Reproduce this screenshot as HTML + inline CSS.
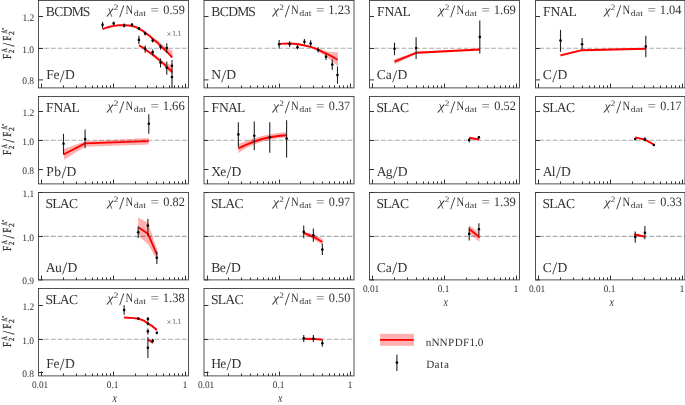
<!DOCTYPE html><html><head><meta charset="utf-8"><style>html,body{margin:0;padding:0;background:#fff;}svg{display:block;will-change:transform;text-rendering:geometricPrecision;}text{font-family:"Liberation Serif",serif;fill:#333;}</style></head><body>
<svg width="685" height="405" viewBox="0 0 685 405">
<polygon points="139,28 145,31.7 150,34.9 155,38.5 158,40.4 161,43.4 164,45.8 167,47.9 170,49.5 172.6,50.4 172.6,58.7 170,56.1 167,53.4 164,51.1 161,48.5 158,44.8 155,41.5 150,37.5 145,33.6 139,29.2" fill="#ffb0b0"/>
<polygon points="139,44.5 145.3,48.4 150,51.3 155,54.8 160.7,59.4 164.8,62.4 168,63.9 172.6,64.8 172.6,74.4 168,70.6 164.8,67.4 160.7,63 155,58.2 150,54.4 145.3,50.6 139,46" fill="#ffb0b0"/>
<line x1="38.5" y1="48.2" x2="188.5" y2="48.2" stroke="#000" stroke-opacity="0.33" stroke-width="1.1" stroke-dasharray="4.9 2.0" stroke-dashoffset="1.45"/>
<polyline points="102.54,29.2 108,27.2 113.65,25.9 119,25.3 124.13,25.2 129,25.5 133,26.2 136,27.2 138.92,28.6 142,30.3 145.17,32.8 150,36.3 152.69,39 156.85,42.2 160.52,45.9 163.7,48.7 166.77,51.6 169.5,54.4 171.98,57.3" fill="none" stroke="#ff0000" stroke-width="1.9" stroke-linejoin="round"/>
<polyline points="138.92,45.2 142.5,47.3 145.17,49.4 148.8,52 152.69,54.5 156.85,57.9 160.52,61.1 163.7,63.9 166.77,66.6 169.5,69.2 171.98,71.6" fill="none" stroke="#ff0000" stroke-width="1.9" stroke-linejoin="round"/>
<line x1="102.54" y1="21.9" x2="102.54" y2="28.4" stroke="#222" stroke-width="1.1"/>
<circle cx="102.54" cy="24.9" r="1.3" fill="#000"/>
<line x1="113.65" y1="21.5" x2="113.65" y2="24.9" stroke="#222" stroke-width="1.1"/>
<circle cx="113.65" cy="23.4" r="1.3" fill="#000"/>
<line x1="124.13" y1="23.6" x2="124.13" y2="27.4" stroke="#222" stroke-width="1.1"/>
<circle cx="124.13" cy="25.5" r="1.3" fill="#000"/>
<line x1="131.97" y1="23" x2="131.97" y2="26.4" stroke="#222" stroke-width="1.1"/>
<circle cx="131.97" cy="24.7" r="1.3" fill="#000"/>
<line x1="138.92" y1="27" x2="138.92" y2="30.2" stroke="#222" stroke-width="1.1"/>
<circle cx="138.92" cy="28.6" r="1.3" fill="#000"/>
<line x1="145.17" y1="31.5" x2="145.17" y2="35.5" stroke="#222" stroke-width="1.1"/>
<circle cx="145.17" cy="33.5" r="1.3" fill="#000"/>
<line x1="152.69" y1="38.5" x2="152.69" y2="42.6" stroke="#222" stroke-width="1.1"/>
<circle cx="152.69" cy="40.5" r="1.3" fill="#000"/>
<line x1="160.52" y1="44.4" x2="160.52" y2="49.6" stroke="#222" stroke-width="1.1"/>
<circle cx="160.52" cy="46.8" r="1.3" fill="#000"/>
<line x1="166.77" y1="43.3" x2="166.77" y2="53" stroke="#222" stroke-width="1.1"/>
<circle cx="166.77" cy="48" r="1.3" fill="#000"/>
<line x1="171.98" y1="59.9" x2="171.98" y2="72.4" stroke="#222" stroke-width="1.1"/>
<circle cx="171.98" cy="65.8" r="1.3" fill="#000"/>
<line x1="138.92" y1="35.8" x2="138.92" y2="44" stroke="#222" stroke-width="1.1"/>
<circle cx="138.92" cy="39.9" r="1.3" fill="#000"/>
<line x1="145.17" y1="45.6" x2="145.17" y2="52.8" stroke="#222" stroke-width="1.1"/>
<circle cx="145.17" cy="48.6" r="1.3" fill="#000"/>
<line x1="152.69" y1="49.5" x2="152.69" y2="55.5" stroke="#222" stroke-width="1.1"/>
<circle cx="152.69" cy="52.2" r="1.3" fill="#000"/>
<line x1="160.52" y1="58.4" x2="160.52" y2="67.5" stroke="#222" stroke-width="1.1"/>
<circle cx="160.52" cy="62.6" r="1.3" fill="#000"/>
<line x1="166.77" y1="61.5" x2="166.77" y2="74.7" stroke="#222" stroke-width="1.1"/>
<circle cx="166.77" cy="67.7" r="1.3" fill="#000"/>
<line x1="171.98" y1="71" x2="171.98" y2="88" stroke="#222" stroke-width="1.1"/>
<circle cx="171.98" cy="77" r="1.3" fill="#000"/>
<text x="166.4" y="36.6" font-size="8.8" textLength="4.99" lengthAdjust="spacingAndGlyphs" style="fill:#555">×</text>
<text x="172.16" y="35.6" font-size="8" textLength="9.07" lengthAdjust="spacingAndGlyphs" style="fill:#555">1.1</text>
<path d="M38.5 16.5h4.5M38.5 48.5h4.5M38.5 79.9h4.5M41.5 87.9v-4.4M63.5 87.9v-2.5M76.5 87.9v-2.5M85.5 87.9v-2.5M92.5 87.9v-2.5M97.5 87.9v-2.5M102.5 87.9v-2.5M106.5 87.9v-2.5M110.5 87.9v-2.5M113.5 87.9v-4.4M135.5 87.9v-2.5M147.5 87.9v-2.5M156.5 87.9v-2.5M163.5 87.9v-2.5M169.5 87.9v-2.5M174.5 87.9v-2.5M178.5 87.9v-2.5M182.5 87.9v-2.5M185.5 87.9v-4.4" stroke="#333" stroke-width="1" fill="none"/>
<rect x="38.5" y="0.5" width="150" height="87.4" fill="none" stroke="#333" stroke-width="0.85"/>
<text font-size="13.6"><tspan x="45.67" y="15.9">B</tspan><tspan x="54.25" y="15.9">C</tspan><tspan x="62.79" y="15.9">D</tspan><tspan x="71.74" y="15.9">M</tspan><tspan x="82.85" y="15.9">S</tspan></text>
<text font-size="13.6"><tspan x="46.2" y="79">F</tspan><tspan x="53.54" y="79">e</tspan><tspan x="59.81" y="81.64" font-size="17.4">/</tspan><tspan x="64.9" y="79">D</tspan></text>
<text x="107.48" y="13.5" font-size="12" font-style="italic" textLength="5.94" lengthAdjust="spacingAndGlyphs">χ</text>
<text x="113.89" y="9.5" font-size="8.2" textLength="4.61" lengthAdjust="spacingAndGlyphs">2</text>
<text x="119.3" y="16.6" font-size="18" textLength="5" lengthAdjust="spacingAndGlyphs">/</text>
<text x="125.49" y="13.5" font-size="12.8" textLength="7.65" lengthAdjust="spacingAndGlyphs">N</text>
<text x="133.84" y="15.6" font-size="8.4" textLength="12.12" lengthAdjust="spacingAndGlyphs">dat</text>
<text x="150.45" y="13.5" font-size="12.8" textLength="8.48" lengthAdjust="spacingAndGlyphs">=</text>
<text x="163.33" y="13.7" font-size="12.8" textLength="21.47" lengthAdjust="spacingAndGlyphs">0.59</text>
<text x="22.4" y="20.7" font-size="10" textLength="11.82" lengthAdjust="spacingAndGlyphs">1.2</text>
<text x="22.23" y="52.7" font-size="10" textLength="11.83" lengthAdjust="spacingAndGlyphs">1.0</text>
<text x="22.2" y="84.1" font-size="10" textLength="11.86" lengthAdjust="spacingAndGlyphs">0.8</text>
<g transform="translate(0 44.2) rotate(-90)">
<text x="-14.76" y="10.6" font-size="12.2" textLength="5.09" lengthAdjust="spacingAndGlyphs" stroke="#333" stroke-width="0.25">F</text>
<text x="-9.02" y="13.7" font-size="7.8" textLength="3.62" lengthAdjust="spacingAndGlyphs" stroke="#333" stroke-width="0.25">2</text>
<text x="-8.16" y="6.8" font-size="8.4" textLength="4.1" lengthAdjust="spacingAndGlyphs" stroke="#333" stroke-width="0.25">A</text>
<text x="-2.4" y="13.6" font-size="16.5" textLength="3.6" lengthAdjust="spacingAndGlyphs" stroke="#333" stroke-width="0.25">/</text>
<text x="3.34" y="10.6" font-size="12.2" textLength="5.09" lengthAdjust="spacingAndGlyphs" stroke="#333" stroke-width="0.25">F</text>
<text x="9.17" y="13.7" font-size="7.8" textLength="3.74" lengthAdjust="spacingAndGlyphs" stroke="#333" stroke-width="0.25">2</text>
<text x="10.35" y="6.8" font-size="8.4" textLength="3.99" lengthAdjust="spacingAndGlyphs" stroke="#333" stroke-width="0.25">A</text>
<text x="14.41" y="6.6" font-size="7.5" textLength="2.19" lengthAdjust="spacingAndGlyphs" stroke="#333" stroke-width="0.25">′</text>
</g>
<polygon points="279.3,43.3 298.6,43.7 310,46.3 318.4,48.6 327,51.3 333,52.2 338,52.2 338,66.5 333,62 327,57.5 318.4,51.2 310,47.6 298.6,44.9 279.3,44.5" fill="#ffb0b0"/>
<line x1="204" y1="48.2" x2="354" y2="48.2" stroke="#000" stroke-opacity="0.33" stroke-width="1.1" stroke-dasharray="4.9 2.0" stroke-dashoffset="1.45"/>
<polyline points="279.15,43.9 284,43.6 289.63,43.5 294,43.7 298.6,44.3 303.72,45.3 310.67,46.9 314.3,48.1 318.19,49.7 322.35,51.8 327.2,54 332.27,56.6 337.48,59.8" fill="none" stroke="#ff0000" stroke-width="1.9" stroke-linejoin="round"/>
<line x1="279.15" y1="40" x2="279.15" y2="48.6" stroke="#222" stroke-width="1.1"/>
<circle cx="279.15" cy="44.3" r="1.3" fill="#000"/>
<line x1="289.63" y1="41.2" x2="289.63" y2="46.9" stroke="#222" stroke-width="1.1"/>
<circle cx="289.63" cy="43.9" r="1.3" fill="#000"/>
<line x1="297.47" y1="45" x2="297.47" y2="49.3" stroke="#222" stroke-width="1.1"/>
<circle cx="297.47" cy="47.2" r="1.3" fill="#000"/>
<line x1="304.42" y1="38.9" x2="304.42" y2="44.6" stroke="#222" stroke-width="1.1"/>
<circle cx="304.42" cy="41.7" r="1.3" fill="#000"/>
<line x1="310.67" y1="40.3" x2="310.67" y2="46.5" stroke="#222" stroke-width="1.1"/>
<circle cx="310.67" cy="43.6" r="1.3" fill="#000"/>
<line x1="318.19" y1="47.2" x2="318.19" y2="52.6" stroke="#222" stroke-width="1.1"/>
<circle cx="318.19" cy="50" r="1.3" fill="#000"/>
<line x1="326.02" y1="54" x2="326.02" y2="60" stroke="#222" stroke-width="1.1"/>
<circle cx="326.02" cy="56.8" r="1.3" fill="#000"/>
<line x1="332.27" y1="59.3" x2="332.27" y2="70.1" stroke="#222" stroke-width="1.1"/>
<circle cx="332.27" cy="64.6" r="1.3" fill="#000"/>
<line x1="337.48" y1="66.5" x2="337.48" y2="83.7" stroke="#222" stroke-width="1.1"/>
<circle cx="337.48" cy="75.1" r="1.3" fill="#000"/>
<path d="M204 16.5h4.5M204 48.5h4.5M204 79.9h4.5M207.5 87.9v-4.4M228.5 87.9v-2.5M241.5 87.9v-2.5M250.5 87.9v-2.5M257.5 87.9v-2.5M263.5 87.9v-2.5M268.5 87.9v-2.5M272.5 87.9v-2.5M275.5 87.9v-2.5M279.5 87.9v-4.4M300.5 87.9v-2.5M313.5 87.9v-2.5M322.5 87.9v-2.5M329.5 87.9v-2.5M334.5 87.9v-2.5M339.5 87.9v-2.5M343.5 87.9v-2.5M347.5 87.9v-2.5M350.5 87.9v-4.4" stroke="#333" stroke-width="1" fill="none"/>
<rect x="204" y="0.5" width="150" height="87.4" fill="none" stroke="#333" stroke-width="0.85"/>
<text font-size="13.6"><tspan x="211.17" y="15.9">B</tspan><tspan x="219.75" y="15.9">C</tspan><tspan x="228.29" y="15.9">D</tspan><tspan x="237.24" y="15.9">M</tspan><tspan x="248.35" y="15.9">S</tspan></text>
<text font-size="13.6"><tspan x="211.15" y="79">N</tspan><tspan x="221.14" y="81.64" font-size="17.4">/</tspan><tspan x="226.23" y="79">D</tspan></text>
<text x="272.98" y="13.5" font-size="12" font-style="italic" textLength="5.94" lengthAdjust="spacingAndGlyphs">χ</text>
<text x="279.39" y="9.5" font-size="8.2" textLength="4.61" lengthAdjust="spacingAndGlyphs">2</text>
<text x="284.8" y="16.6" font-size="18" textLength="5" lengthAdjust="spacingAndGlyphs">/</text>
<text x="290.99" y="13.5" font-size="12.8" textLength="7.65" lengthAdjust="spacingAndGlyphs">N</text>
<text x="299.34" y="15.6" font-size="8.4" textLength="12.12" lengthAdjust="spacingAndGlyphs">dat</text>
<text x="315.95" y="13.5" font-size="12.8" textLength="8.48" lengthAdjust="spacingAndGlyphs">=</text>
<text x="328.19" y="13.7" font-size="12.8" textLength="22.1" lengthAdjust="spacingAndGlyphs">1.23</text>
<polygon points="394.5,59.2 416.4,51.7 480,48.6 480,50.4 416.4,53.9 394.5,64.2" fill="#ffb0b0"/>
<line x1="369.5" y1="48.2" x2="519.5" y2="48.2" stroke="#000" stroke-opacity="0.33" stroke-width="1.1" stroke-dasharray="4.9 2.0" stroke-dashoffset="2.45"/>
<polyline points="394.5,61.6 416.1,52.8 479.8,49.5" fill="none" stroke="#ff0000" stroke-width="1.9" stroke-linejoin="round"/>
<line x1="394.5" y1="42.6" x2="394.5" y2="55.2" stroke="#222" stroke-width="1.1"/>
<circle cx="394.5" cy="48.7" r="1.3" fill="#000"/>
<line x1="416.1" y1="37.2" x2="416.1" y2="59" stroke="#222" stroke-width="1.1"/>
<circle cx="416.1" cy="48" r="1.3" fill="#000"/>
<line x1="479.8" y1="20.4" x2="479.8" y2="53.6" stroke="#222" stroke-width="1.1"/>
<circle cx="479.8" cy="36.9" r="1.3" fill="#000"/>
<path d="M369.5 16.5h4.5M369.5 48.5h4.5M369.5 79.9h4.5M372.5 87.9v-4.4M394.5 87.9v-2.5M407.5 87.9v-2.5M416.5 87.9v-2.5M423.5 87.9v-2.5M428.5 87.9v-2.5M433.5 87.9v-2.5M437.5 87.9v-2.5M441.5 87.9v-2.5M444.5 87.9v-4.4M466.5 87.9v-2.5M478.5 87.9v-2.5M487.5 87.9v-2.5M494.5 87.9v-2.5M500.5 87.9v-2.5M505.5 87.9v-2.5M509.5 87.9v-2.5M513.5 87.9v-2.5M516.5 87.9v-4.4" stroke="#333" stroke-width="1" fill="none"/>
<rect x="369.5" y="0.5" width="150" height="87.4" fill="none" stroke="#333" stroke-width="0.85"/>
<text font-size="13.6"><tspan x="377.1" y="15.9">F</tspan><tspan x="384.39" y="15.9">N</tspan><tspan x="393.39" y="15.9">A</tspan><tspan x="402.39" y="15.9">L</tspan></text>
<text font-size="13.6"><tspan x="376.86" y="79">C</tspan><tspan x="385.71" y="79">a</tspan><tspan x="392.31" y="81.64" font-size="17.4">/</tspan><tspan x="397.4" y="79">D</tspan></text>
<text x="438.48" y="13.5" font-size="12" font-style="italic" textLength="5.94" lengthAdjust="spacingAndGlyphs">χ</text>
<text x="444.89" y="9.5" font-size="8.2" textLength="4.61" lengthAdjust="spacingAndGlyphs">2</text>
<text x="450.3" y="16.6" font-size="18" textLength="5" lengthAdjust="spacingAndGlyphs">/</text>
<text x="456.49" y="13.5" font-size="12.8" textLength="7.65" lengthAdjust="spacingAndGlyphs">N</text>
<text x="464.84" y="15.6" font-size="8.4" textLength="12.12" lengthAdjust="spacingAndGlyphs">dat</text>
<text x="481.45" y="13.5" font-size="12.8" textLength="8.48" lengthAdjust="spacingAndGlyphs">=</text>
<text x="493.69" y="13.7" font-size="12.8" textLength="22.13" lengthAdjust="spacingAndGlyphs">1.69</text>
<polygon points="560.4,54.2 581.7,49.3 645.5,48 645.5,49.6 581.7,51.1 560.4,56.5" fill="#ffb0b0"/>
<line x1="535.5" y1="48.2" x2="685.5" y2="48.2" stroke="#000" stroke-opacity="0.33" stroke-width="1.1" stroke-dasharray="4.9 2.0" stroke-dashoffset="3.5"/>
<polyline points="560.5,55.3 582.1,50.2 645.8,48.8" fill="none" stroke="#ff0000" stroke-width="1.9" stroke-linejoin="round"/>
<line x1="560.5" y1="29.9" x2="560.5" y2="51.8" stroke="#222" stroke-width="1.1"/>
<circle cx="560.5" cy="40.6" r="1.3" fill="#000"/>
<line x1="582.1" y1="38" x2="582.1" y2="49.5" stroke="#222" stroke-width="1.1"/>
<circle cx="582.1" cy="44.2" r="1.3" fill="#000"/>
<line x1="645.8" y1="35.7" x2="645.8" y2="57.2" stroke="#222" stroke-width="1.1"/>
<circle cx="645.8" cy="46.5" r="1.3" fill="#000"/>
<path d="M535.5 16.5h4.5M535.5 48.5h4.5M535.5 79.9h4.5M538.5 87.9v-4.4M560.5 87.9v-2.5M573.5 87.9v-2.5M582.5 87.9v-2.5M589.5 87.9v-2.5M594.5 87.9v-2.5M599.5 87.9v-2.5M603.5 87.9v-2.5M607.5 87.9v-2.5M610.5 87.9v-4.4M632.5 87.9v-2.5M644.5 87.9v-2.5M653.5 87.9v-2.5M660.5 87.9v-2.5M666.5 87.9v-2.5M671.5 87.9v-2.5M675.5 87.9v-2.5M679.5 87.9v-2.5M682.5 87.9v-4.4" stroke="#333" stroke-width="1" fill="none"/>
<rect x="535.5" y="0.5" width="149.5" height="87.4" fill="none" stroke="#333" stroke-width="0.85"/>
<text font-size="13.6"><tspan x="543.1" y="15.9">F</tspan><tspan x="550.39" y="15.9">N</tspan><tspan x="559.39" y="15.9">A</tspan><tspan x="568.39" y="15.9">L</tspan></text>
<text font-size="13.6"><tspan x="542.86" y="79">C</tspan><tspan x="552.31" y="81.64" font-size="17.4">/</tspan><tspan x="557.4" y="79">D</tspan></text>
<text x="604.48" y="13.5" font-size="12" font-style="italic" textLength="5.94" lengthAdjust="spacingAndGlyphs">χ</text>
<text x="610.89" y="9.5" font-size="8.2" textLength="4.61" lengthAdjust="spacingAndGlyphs">2</text>
<text x="616.3" y="16.6" font-size="18" textLength="5" lengthAdjust="spacingAndGlyphs">/</text>
<text x="622.49" y="13.5" font-size="12.8" textLength="7.65" lengthAdjust="spacingAndGlyphs">N</text>
<text x="630.84" y="15.6" font-size="8.4" textLength="12.12" lengthAdjust="spacingAndGlyphs">dat</text>
<text x="647.45" y="13.5" font-size="12.8" textLength="8.48" lengthAdjust="spacingAndGlyphs">=</text>
<text x="659.71" y="13.7" font-size="12.8" textLength="21.79" lengthAdjust="spacingAndGlyphs">1.04</text>
<polygon points="63.9,149.1 85.2,141.2 148.8,138 148.8,144.5 85.2,146.8 63.9,159.8" fill="#ffb0b0"/>
<line x1="38.5" y1="140.3" x2="188.5" y2="140.3" stroke="#000" stroke-opacity="0.33" stroke-width="1.1" stroke-dasharray="4.9 2.0" stroke-dashoffset="1.45"/>
<polyline points="63.5,154.5 85.1,143.4 148.8,141.1" fill="none" stroke="#ff0000" stroke-width="1.9" stroke-linejoin="round"/>
<line x1="63.5" y1="133.8" x2="63.5" y2="154.4" stroke="#222" stroke-width="1.1"/>
<circle cx="63.5" cy="143.7" r="1.3" fill="#000"/>
<line x1="85.1" y1="129.6" x2="85.1" y2="148.3" stroke="#222" stroke-width="1.1"/>
<circle cx="85.1" cy="139.1" r="1.3" fill="#000"/>
<line x1="148.8" y1="114.3" x2="148.8" y2="133.8" stroke="#222" stroke-width="1.1"/>
<circle cx="148.8" cy="123.8" r="1.3" fill="#000"/>
<path d="M38.5 111.5h4.5M38.5 140.5h4.5M38.5 169.5h4.5M41.5 183.9v-4.4M63.5 183.9v-2.5M76.5 183.9v-2.5M85.5 183.9v-2.5M92.5 183.9v-2.5M97.5 183.9v-2.5M102.5 183.9v-2.5M106.5 183.9v-2.5M110.5 183.9v-2.5M113.5 183.9v-4.4M135.5 183.9v-2.5M147.5 183.9v-2.5M156.5 183.9v-2.5M163.5 183.9v-2.5M169.5 183.9v-2.5M174.5 183.9v-2.5M178.5 183.9v-2.5M182.5 183.9v-2.5M185.5 183.9v-4.4" stroke="#333" stroke-width="1" fill="none"/>
<rect x="38.5" y="96.5" width="150" height="87.4" fill="none" stroke="#333" stroke-width="0.85"/>
<text font-size="13.6"><tspan x="46.1" y="111.9">F</tspan><tspan x="53.39" y="111.9">N</tspan><tspan x="62.39" y="111.9">A</tspan><tspan x="71.39" y="111.9">L</tspan></text>
<text font-size="13.6"><tspan x="46.36" y="175.8">P</tspan><tspan x="54.17" y="175.8">b</tspan><tspan x="61.49" y="178.44" font-size="17.4">/</tspan><tspan x="66.58" y="175.8">D</tspan></text>
<text x="107.48" y="109.5" font-size="12" font-style="italic" textLength="5.94" lengthAdjust="spacingAndGlyphs">χ</text>
<text x="113.89" y="105.5" font-size="8.2" textLength="4.61" lengthAdjust="spacingAndGlyphs">2</text>
<text x="119.3" y="112.6" font-size="18" textLength="5" lengthAdjust="spacingAndGlyphs">/</text>
<text x="125.49" y="109.5" font-size="12.8" textLength="7.65" lengthAdjust="spacingAndGlyphs">N</text>
<text x="133.84" y="111.6" font-size="8.4" textLength="12.12" lengthAdjust="spacingAndGlyphs">dat</text>
<text x="150.45" y="109.5" font-size="12.8" textLength="8.48" lengthAdjust="spacingAndGlyphs">=</text>
<text x="162.7" y="109.7" font-size="12.8" textLength="21.98" lengthAdjust="spacingAndGlyphs">1.66</text>
<text x="22.4" y="115.7" font-size="10" textLength="11.82" lengthAdjust="spacingAndGlyphs">1.2</text>
<text x="22.23" y="144.7" font-size="10" textLength="11.83" lengthAdjust="spacingAndGlyphs">1.0</text>
<text x="22.2" y="173.7" font-size="10" textLength="11.86" lengthAdjust="spacingAndGlyphs">0.8</text>
<g transform="translate(0 140.2) rotate(-90)">
<text x="-14.76" y="10.6" font-size="12.2" textLength="5.09" lengthAdjust="spacingAndGlyphs" stroke="#333" stroke-width="0.25">F</text>
<text x="-9.02" y="13.7" font-size="7.8" textLength="3.62" lengthAdjust="spacingAndGlyphs" stroke="#333" stroke-width="0.25">2</text>
<text x="-8.16" y="6.8" font-size="8.4" textLength="4.1" lengthAdjust="spacingAndGlyphs" stroke="#333" stroke-width="0.25">A</text>
<text x="-2.4" y="13.6" font-size="16.5" textLength="3.6" lengthAdjust="spacingAndGlyphs" stroke="#333" stroke-width="0.25">/</text>
<text x="3.34" y="10.6" font-size="12.2" textLength="5.09" lengthAdjust="spacingAndGlyphs" stroke="#333" stroke-width="0.25">F</text>
<text x="9.17" y="13.7" font-size="7.8" textLength="3.74" lengthAdjust="spacingAndGlyphs" stroke="#333" stroke-width="0.25">2</text>
<text x="10.35" y="6.8" font-size="8.4" textLength="3.99" lengthAdjust="spacingAndGlyphs" stroke="#333" stroke-width="0.25">A</text>
<text x="14.41" y="6.6" font-size="7.5" textLength="2.19" lengthAdjust="spacingAndGlyphs" stroke="#333" stroke-width="0.25">′</text>
</g>
<polygon points="238.4,143.8 246,141 254.3,138.2 262,136 269.8,134.3 278,133 286.5,131.9 286.5,137.2 278,138.2 269.8,139.7 262,141.7 254.3,144.6 246,148.3 238.4,153" fill="#ffb0b0"/>
<line x1="204" y1="140.3" x2="354" y2="140.3" stroke="#000" stroke-opacity="0.33" stroke-width="1.1" stroke-dasharray="4.9 2.0" stroke-dashoffset="1.45"/>
<polyline points="238.35,148.4 246,144.9 254.27,141.5 262,139 269.77,137.2 278,136 286.6,135.2" fill="none" stroke="#ff0000" stroke-width="1.9" stroke-linejoin="round"/>
<line x1="238.35" y1="122.2" x2="238.35" y2="147.1" stroke="#222" stroke-width="1.1"/>
<circle cx="238.35" cy="134.4" r="1.3" fill="#000"/>
<line x1="254.27" y1="121.4" x2="254.27" y2="150.2" stroke="#222" stroke-width="1.1"/>
<circle cx="254.27" cy="135.7" r="1.3" fill="#000"/>
<line x1="269.77" y1="122.2" x2="269.77" y2="152.7" stroke="#222" stroke-width="1.1"/>
<circle cx="269.77" cy="137.2" r="1.3" fill="#000"/>
<line x1="286.6" y1="120.2" x2="286.6" y2="157.6" stroke="#222" stroke-width="1.1"/>
<circle cx="286.6" cy="138.5" r="1.3" fill="#000"/>
<path d="M204 111.5h4.5M204 140.5h4.5M204 169.5h4.5M207.5 183.9v-4.4M228.5 183.9v-2.5M241.5 183.9v-2.5M250.5 183.9v-2.5M257.5 183.9v-2.5M263.5 183.9v-2.5M268.5 183.9v-2.5M272.5 183.9v-2.5M275.5 183.9v-2.5M279.5 183.9v-4.4M300.5 183.9v-2.5M313.5 183.9v-2.5M322.5 183.9v-2.5M329.5 183.9v-2.5M334.5 183.9v-2.5M339.5 183.9v-2.5M343.5 183.9v-2.5M347.5 183.9v-2.5M350.5 183.9v-4.4" stroke="#333" stroke-width="1" fill="none"/>
<rect x="204" y="96.5" width="150" height="87.4" fill="none" stroke="#333" stroke-width="0.85"/>
<text font-size="13.6"><tspan x="211.6" y="111.9">F</tspan><tspan x="218.89" y="111.9">N</tspan><tspan x="227.89" y="111.9">A</tspan><tspan x="236.89" y="111.9">L</tspan></text>
<text font-size="13.6"><tspan x="211.15" y="175.8">X</tspan><tspan x="220.21" y="175.8">e</tspan><tspan x="226.47" y="178.44" font-size="17.4">/</tspan><tspan x="231.56" y="175.8">D</tspan></text>
<text x="272.98" y="109.5" font-size="12" font-style="italic" textLength="5.94" lengthAdjust="spacingAndGlyphs">χ</text>
<text x="279.39" y="105.5" font-size="8.2" textLength="4.61" lengthAdjust="spacingAndGlyphs">2</text>
<text x="284.8" y="112.6" font-size="18" textLength="5" lengthAdjust="spacingAndGlyphs">/</text>
<text x="290.99" y="109.5" font-size="12.8" textLength="7.65" lengthAdjust="spacingAndGlyphs">N</text>
<text x="299.34" y="111.6" font-size="8.4" textLength="12.12" lengthAdjust="spacingAndGlyphs">dat</text>
<text x="315.95" y="109.5" font-size="12.8" textLength="8.48" lengthAdjust="spacingAndGlyphs">=</text>
<text x="328.84" y="109.7" font-size="12.8" textLength="21.31" lengthAdjust="spacingAndGlyphs">0.37</text>
<polygon points="469,136.8 479.1,138.7 479.1,140.3 469,138.6" fill="#ffb0b0"/>
<line x1="369.5" y1="140.3" x2="519.5" y2="140.3" stroke="#000" stroke-opacity="0.33" stroke-width="1.1" stroke-dasharray="4.9 2.0" stroke-dashoffset="2.45"/>
<polyline points="469.22,137.7 478.88,139.5" fill="none" stroke="#ff0000" stroke-width="1.9" stroke-linejoin="round"/>
<line x1="469.22" y1="138.9" x2="469.22" y2="142.6" stroke="#222" stroke-width="1.1"/>
<circle cx="469.22" cy="139.9" r="1.3" fill="#000"/>
<line x1="478.88" y1="136.1" x2="478.88" y2="139.2" stroke="#222" stroke-width="1.1"/>
<circle cx="478.88" cy="137.3" r="1.3" fill="#000"/>
<path d="M369.5 111.5h4.5M369.5 140.5h4.5M369.5 169.5h4.5M372.5 183.9v-4.4M394.5 183.9v-2.5M407.5 183.9v-2.5M416.5 183.9v-2.5M423.5 183.9v-2.5M428.5 183.9v-2.5M433.5 183.9v-2.5M437.5 183.9v-2.5M441.5 183.9v-2.5M444.5 183.9v-4.4M466.5 183.9v-2.5M478.5 183.9v-2.5M487.5 183.9v-2.5M494.5 183.9v-2.5M500.5 183.9v-2.5M505.5 183.9v-2.5M509.5 183.9v-2.5M513.5 183.9v-2.5M516.5 183.9v-4.4" stroke="#333" stroke-width="1" fill="none"/>
<rect x="369.5" y="96.5" width="150" height="87.4" fill="none" stroke="#333" stroke-width="0.85"/>
<text font-size="13.6"><tspan x="376.51" y="111.9">S</tspan><tspan x="383.23" y="111.9">L</tspan><tspan x="390.72" y="111.9">A</tspan><tspan x="399.93" y="111.9">C</tspan></text>
<text font-size="13.6"><tspan x="376.65" y="175.8">A</tspan><tspan x="385.66" y="175.8">g</tspan><tspan x="392.64" y="178.44" font-size="17.4">/</tspan><tspan x="397.73" y="175.8">D</tspan></text>
<text x="438.48" y="109.5" font-size="12" font-style="italic" textLength="5.94" lengthAdjust="spacingAndGlyphs">χ</text>
<text x="444.89" y="105.5" font-size="8.2" textLength="4.61" lengthAdjust="spacingAndGlyphs">2</text>
<text x="450.3" y="112.6" font-size="18" textLength="5" lengthAdjust="spacingAndGlyphs">/</text>
<text x="456.49" y="109.5" font-size="12.8" textLength="7.65" lengthAdjust="spacingAndGlyphs">N</text>
<text x="464.84" y="111.6" font-size="8.4" textLength="12.12" lengthAdjust="spacingAndGlyphs">dat</text>
<text x="481.45" y="109.5" font-size="12.8" textLength="8.48" lengthAdjust="spacingAndGlyphs">=</text>
<text x="494.33" y="109.7" font-size="12.8" textLength="21.65" lengthAdjust="spacingAndGlyphs">0.52</text>
<polygon points="634.6,136.5 644.4,138.9 653.7,143.5 653.7,145.5 644.4,140.5 634.6,138.1" fill="#ffb0b0"/>
<line x1="535.5" y1="140.3" x2="685.5" y2="140.3" stroke="#000" stroke-opacity="0.33" stroke-width="1.1" stroke-dasharray="4.9 2.0" stroke-dashoffset="3.5"/>
<polyline points="635.22,137.3 644.88,139.7 653.85,144.5" fill="none" stroke="#ff0000" stroke-width="1.9" stroke-linejoin="round"/>
<line x1="635.22" y1="138.3" x2="635.22" y2="139.9" stroke="#222" stroke-width="1.1"/>
<circle cx="635.22" cy="139.1" r="1.3" fill="#000"/>
<line x1="644.88" y1="137.3" x2="644.88" y2="141.3" stroke="#222" stroke-width="1.1"/>
<circle cx="644.88" cy="139.4" r="1.3" fill="#000"/>
<line x1="653.85" y1="144" x2="653.85" y2="146" stroke="#222" stroke-width="1.1"/>
<circle cx="653.85" cy="145" r="1.3" fill="#000"/>
<path d="M535.5 111.5h4.5M535.5 140.5h4.5M535.5 169.5h4.5M538.5 183.9v-4.4M560.5 183.9v-2.5M573.5 183.9v-2.5M582.5 183.9v-2.5M589.5 183.9v-2.5M594.5 183.9v-2.5M599.5 183.9v-2.5M603.5 183.9v-2.5M607.5 183.9v-2.5M610.5 183.9v-4.4M632.5 183.9v-2.5M644.5 183.9v-2.5M653.5 183.9v-2.5M660.5 183.9v-2.5M666.5 183.9v-2.5M671.5 183.9v-2.5M675.5 183.9v-2.5M679.5 183.9v-2.5M682.5 183.9v-4.4" stroke="#333" stroke-width="1" fill="none"/>
<rect x="535.5" y="96.5" width="149.5" height="87.4" fill="none" stroke="#333" stroke-width="0.85"/>
<text font-size="13.6"><tspan x="542.51" y="111.9">S</tspan><tspan x="549.23" y="111.9">L</tspan><tspan x="556.72" y="111.9">A</tspan><tspan x="565.93" y="111.9">C</tspan></text>
<text font-size="13.6"><tspan x="542.65" y="175.8">A</tspan><tspan x="551.84" y="175.8">l</tspan><tspan x="555.98" y="178.44" font-size="17.4">/</tspan><tspan x="561.07" y="175.8">D</tspan></text>
<text x="604.48" y="109.5" font-size="12" font-style="italic" textLength="5.94" lengthAdjust="spacingAndGlyphs">χ</text>
<text x="610.89" y="105.5" font-size="8.2" textLength="4.61" lengthAdjust="spacingAndGlyphs">2</text>
<text x="616.3" y="112.6" font-size="18" textLength="5" lengthAdjust="spacingAndGlyphs">/</text>
<text x="622.49" y="109.5" font-size="12.8" textLength="7.65" lengthAdjust="spacingAndGlyphs">N</text>
<text x="630.84" y="111.6" font-size="8.4" textLength="12.12" lengthAdjust="spacingAndGlyphs">dat</text>
<text x="647.45" y="109.5" font-size="12.8" textLength="8.48" lengthAdjust="spacingAndGlyphs">=</text>
<text x="660.34" y="109.7" font-size="12.8" textLength="21.31" lengthAdjust="spacingAndGlyphs">0.17</text>
<polygon points="138.2,217.6 148.2,222.9 157.1,249.6 157.1,260.5 148.2,244.2 138.2,236" fill="#ffb0b0"/>
<line x1="38.5" y1="236.4" x2="188.5" y2="236.4" stroke="#000" stroke-opacity="0.33" stroke-width="1.1" stroke-dasharray="4.9 2.0" stroke-dashoffset="1.45"/>
<polyline points="138.22,227.3 147.88,233.7 156.85,254.4" fill="none" stroke="#ff0000" stroke-width="1.9" stroke-linejoin="round"/>
<line x1="138.22" y1="226.3" x2="138.22" y2="238.1" stroke="#222" stroke-width="1.1"/>
<circle cx="138.22" cy="232.2" r="1.3" fill="#000"/>
<line x1="147.88" y1="218.9" x2="147.88" y2="235.9" stroke="#222" stroke-width="1.1"/>
<circle cx="147.88" cy="225.6" r="1.3" fill="#000"/>
<line x1="156.85" y1="251.5" x2="156.85" y2="264.1" stroke="#222" stroke-width="1.1"/>
<circle cx="156.85" cy="257.7" r="1.3" fill="#000"/>
<path d="M38.5 192.5h4.5M38.5 236.5h4.5M38.5 279.9h4.5M41.5 279.9v-4.4M63.5 279.9v-2.5M76.5 279.9v-2.5M85.5 279.9v-2.5M92.5 279.9v-2.5M97.5 279.9v-2.5M102.5 279.9v-2.5M106.5 279.9v-2.5M110.5 279.9v-2.5M113.5 279.9v-4.4M135.5 279.9v-2.5M147.5 279.9v-2.5M156.5 279.9v-2.5M163.5 279.9v-2.5M169.5 279.9v-2.5M174.5 279.9v-2.5M178.5 279.9v-2.5M182.5 279.9v-2.5M185.5 279.9v-4.4" stroke="#333" stroke-width="1" fill="none"/>
<rect x="38.5" y="192.5" width="150" height="87.4" fill="none" stroke="#333" stroke-width="0.85"/>
<text font-size="13.6"><tspan x="45.51" y="207.9">S</tspan><tspan x="52.23" y="207.9">L</tspan><tspan x="59.72" y="207.9">A</tspan><tspan x="68.93" y="207.9">C</tspan></text>
<text font-size="13.6"><tspan x="45.65" y="271.8">A</tspan><tspan x="55" y="271.8">u</tspan><tspan x="62.31" y="274.44" font-size="17.4">/</tspan><tspan x="67.41" y="271.8">D</tspan></text>
<text x="107.48" y="205.5" font-size="12" font-style="italic" textLength="5.94" lengthAdjust="spacingAndGlyphs">χ</text>
<text x="113.89" y="201.5" font-size="8.2" textLength="4.61" lengthAdjust="spacingAndGlyphs">2</text>
<text x="119.3" y="208.6" font-size="18" textLength="5" lengthAdjust="spacingAndGlyphs">/</text>
<text x="125.49" y="205.5" font-size="12.8" textLength="7.65" lengthAdjust="spacingAndGlyphs">N</text>
<text x="133.84" y="207.6" font-size="8.4" textLength="12.12" lengthAdjust="spacingAndGlyphs">dat</text>
<text x="150.45" y="205.5" font-size="12.8" textLength="8.48" lengthAdjust="spacingAndGlyphs">=</text>
<text x="163.33" y="205.7" font-size="12.8" textLength="21.65" lengthAdjust="spacingAndGlyphs">0.82</text>
<text x="22.45" y="196.7" font-size="10" textLength="11.82" lengthAdjust="spacingAndGlyphs">1.1</text>
<text x="22.23" y="240.7" font-size="10" textLength="11.83" lengthAdjust="spacingAndGlyphs">1.0</text>
<text x="22.23" y="284.1" font-size="10" textLength="11.86" lengthAdjust="spacingAndGlyphs">0.9</text>
<g transform="translate(0 236.2) rotate(-90)">
<text x="-14.76" y="10.6" font-size="12.2" textLength="5.09" lengthAdjust="spacingAndGlyphs" stroke="#333" stroke-width="0.25">F</text>
<text x="-9.02" y="13.7" font-size="7.8" textLength="3.62" lengthAdjust="spacingAndGlyphs" stroke="#333" stroke-width="0.25">2</text>
<text x="-8.16" y="6.8" font-size="8.4" textLength="4.1" lengthAdjust="spacingAndGlyphs" stroke="#333" stroke-width="0.25">A</text>
<text x="-2.4" y="13.6" font-size="16.5" textLength="3.6" lengthAdjust="spacingAndGlyphs" stroke="#333" stroke-width="0.25">/</text>
<text x="3.34" y="10.6" font-size="12.2" textLength="5.09" lengthAdjust="spacingAndGlyphs" stroke="#333" stroke-width="0.25">F</text>
<text x="9.17" y="13.7" font-size="7.8" textLength="3.74" lengthAdjust="spacingAndGlyphs" stroke="#333" stroke-width="0.25">2</text>
<text x="10.35" y="6.8" font-size="8.4" textLength="3.99" lengthAdjust="spacingAndGlyphs" stroke="#333" stroke-width="0.25">A</text>
<text x="14.41" y="6.6" font-size="7.5" textLength="2.19" lengthAdjust="spacingAndGlyphs" stroke="#333" stroke-width="0.25">′</text>
</g>
<polygon points="303.4,231.2 313.5,234.4 322.7,238.8 322.7,245 313.5,239.2 303.4,234.6" fill="#ffb0b0"/>
<line x1="204" y1="236.4" x2="354" y2="236.4" stroke="#000" stroke-opacity="0.33" stroke-width="1.1" stroke-dasharray="4.9 2.0" stroke-dashoffset="1.45"/>
<polyline points="303.72,232.9 313.38,236.8 322.35,242" fill="none" stroke="#ff0000" stroke-width="1.9" stroke-linejoin="round"/>
<line x1="303.72" y1="225.4" x2="303.72" y2="238.3" stroke="#222" stroke-width="1.1"/>
<circle cx="303.72" cy="231.9" r="1.3" fill="#000"/>
<line x1="313.38" y1="228.4" x2="313.38" y2="241.8" stroke="#222" stroke-width="1.1"/>
<circle cx="313.38" cy="235.3" r="1.3" fill="#000"/>
<line x1="322.35" y1="243.7" x2="322.35" y2="255.1" stroke="#222" stroke-width="1.1"/>
<circle cx="322.35" cy="249.5" r="1.3" fill="#000"/>
<path d="M204 192.5h4.5M204 236.5h4.5M204 279.9h4.5M207.5 279.9v-4.4M228.5 279.9v-2.5M241.5 279.9v-2.5M250.5 279.9v-2.5M257.5 279.9v-2.5M263.5 279.9v-2.5M268.5 279.9v-2.5M272.5 279.9v-2.5M275.5 279.9v-2.5M279.5 279.9v-4.4M300.5 279.9v-2.5M313.5 279.9v-2.5M322.5 279.9v-2.5M329.5 279.9v-2.5M334.5 279.9v-2.5M339.5 279.9v-2.5M343.5 279.9v-2.5M347.5 279.9v-2.5M350.5 279.9v-4.4" stroke="#333" stroke-width="1" fill="none"/>
<rect x="204" y="192.5" width="150" height="87.4" fill="none" stroke="#333" stroke-width="0.85"/>
<text font-size="13.6"><tspan x="211.01" y="207.9">S</tspan><tspan x="217.73" y="207.9">L</tspan><tspan x="225.22" y="207.9">A</tspan><tspan x="234.43" y="207.9">C</tspan></text>
<text font-size="13.6"><tspan x="211.27" y="271.8">B</tspan><tspan x="219.7" y="271.8">e</tspan><tspan x="225.97" y="274.44" font-size="17.4">/</tspan><tspan x="231.06" y="271.8">D</tspan></text>
<text x="272.98" y="205.5" font-size="12" font-style="italic" textLength="5.94" lengthAdjust="spacingAndGlyphs">χ</text>
<text x="279.39" y="201.5" font-size="8.2" textLength="4.61" lengthAdjust="spacingAndGlyphs">2</text>
<text x="284.8" y="208.6" font-size="18" textLength="5" lengthAdjust="spacingAndGlyphs">/</text>
<text x="290.99" y="205.5" font-size="12.8" textLength="7.65" lengthAdjust="spacingAndGlyphs">N</text>
<text x="299.34" y="207.6" font-size="8.4" textLength="12.12" lengthAdjust="spacingAndGlyphs">dat</text>
<text x="315.95" y="205.5" font-size="12.8" textLength="8.48" lengthAdjust="spacingAndGlyphs">=</text>
<text x="328.84" y="205.7" font-size="12.8" textLength="21.31" lengthAdjust="spacingAndGlyphs">0.97</text>
<polygon points="468.8,225 479.4,232.8 479.4,241.7 468.8,233.2" fill="#ffb0b0"/>
<line x1="369.5" y1="236.4" x2="519.5" y2="236.4" stroke="#000" stroke-opacity="0.33" stroke-width="1.1" stroke-dasharray="4.9 2.0" stroke-dashoffset="2.45"/>
<polyline points="469.22,229.1 479.8,237.4" fill="none" stroke="#ff0000" stroke-width="1.9" stroke-linejoin="round"/>
<line x1="469.22" y1="227.2" x2="469.22" y2="240.6" stroke="#222" stroke-width="1.1"/>
<circle cx="469.22" cy="233.9" r="1.3" fill="#000"/>
<line x1="478.88" y1="223.2" x2="478.88" y2="235.8" stroke="#222" stroke-width="1.1"/>
<circle cx="478.88" cy="229.2" r="1.3" fill="#000"/>
<path d="M369.5 192.5h4.5M369.5 236.5h4.5M369.5 279.9h4.5M372.5 279.9v-4.4M394.5 279.9v-2.5M407.5 279.9v-2.5M416.5 279.9v-2.5M423.5 279.9v-2.5M428.5 279.9v-2.5M433.5 279.9v-2.5M437.5 279.9v-2.5M441.5 279.9v-2.5M444.5 279.9v-4.4M466.5 279.9v-2.5M478.5 279.9v-2.5M487.5 279.9v-2.5M494.5 279.9v-2.5M500.5 279.9v-2.5M505.5 279.9v-2.5M509.5 279.9v-2.5M513.5 279.9v-2.5M516.5 279.9v-4.4" stroke="#333" stroke-width="1" fill="none"/>
<rect x="369.5" y="192.5" width="150" height="87.4" fill="none" stroke="#333" stroke-width="0.85"/>
<text font-size="13.6"><tspan x="376.51" y="207.9">S</tspan><tspan x="383.23" y="207.9">L</tspan><tspan x="390.72" y="207.9">A</tspan><tspan x="399.93" y="207.9">C</tspan></text>
<text font-size="13.6"><tspan x="376.86" y="271.8">C</tspan><tspan x="385.71" y="271.8">a</tspan><tspan x="392.31" y="274.44" font-size="17.4">/</tspan><tspan x="397.4" y="271.8">D</tspan></text>
<text x="438.48" y="205.5" font-size="12" font-style="italic" textLength="5.94" lengthAdjust="spacingAndGlyphs">χ</text>
<text x="444.89" y="201.5" font-size="8.2" textLength="4.61" lengthAdjust="spacingAndGlyphs">2</text>
<text x="450.3" y="208.6" font-size="18" textLength="5" lengthAdjust="spacingAndGlyphs">/</text>
<text x="456.49" y="205.5" font-size="12.8" textLength="7.65" lengthAdjust="spacingAndGlyphs">N</text>
<text x="464.84" y="207.6" font-size="8.4" textLength="12.12" lengthAdjust="spacingAndGlyphs">dat</text>
<text x="481.45" y="205.5" font-size="12.8" textLength="8.48" lengthAdjust="spacingAndGlyphs">=</text>
<text x="493.69" y="205.7" font-size="12.8" textLength="22.13" lengthAdjust="spacingAndGlyphs">1.39</text>
<text x="362.94" y="291.5" font-size="10" textLength="16.31" lengthAdjust="spacingAndGlyphs">0.01</text>
<text x="437.85" y="291.5" font-size="10" textLength="11.61" lengthAdjust="spacingAndGlyphs">0.1</text>
<text x="513.53" y="291.5" font-size="10" textLength="4.97" lengthAdjust="spacingAndGlyphs">1</text>
<text x="443.52" y="305.7" font-size="12.6" font-style="italic" textLength="4.35" lengthAdjust="spacingAndGlyphs">x</text>
<polygon points="634.2,233.5 645.3,235.9 645.3,237.5 634.2,235.1" fill="#ffb0b0"/>
<line x1="535.5" y1="236.4" x2="685.5" y2="236.4" stroke="#000" stroke-opacity="0.33" stroke-width="1.1" stroke-dasharray="4.9 2.0" stroke-dashoffset="3.5"/>
<polyline points="634.2,234.3 644.88,236.7" fill="none" stroke="#ff0000" stroke-width="1.9" stroke-linejoin="round"/>
<line x1="635.22" y1="231.6" x2="635.22" y2="242.7" stroke="#222" stroke-width="1.1"/>
<circle cx="635.22" cy="236.9" r="1.3" fill="#000"/>
<line x1="644.88" y1="226" x2="644.88" y2="239.3" stroke="#222" stroke-width="1.1"/>
<circle cx="644.88" cy="232.8" r="1.3" fill="#000"/>
<path d="M535.5 192.5h4.5M535.5 236.5h4.5M535.5 279.9h4.5M538.5 279.9v-4.4M560.5 279.9v-2.5M573.5 279.9v-2.5M582.5 279.9v-2.5M589.5 279.9v-2.5M594.5 279.9v-2.5M599.5 279.9v-2.5M603.5 279.9v-2.5M607.5 279.9v-2.5M610.5 279.9v-4.4M632.5 279.9v-2.5M644.5 279.9v-2.5M653.5 279.9v-2.5M660.5 279.9v-2.5M666.5 279.9v-2.5M671.5 279.9v-2.5M675.5 279.9v-2.5M679.5 279.9v-2.5M682.5 279.9v-4.4" stroke="#333" stroke-width="1" fill="none"/>
<rect x="535.5" y="192.5" width="149.5" height="87.4" fill="none" stroke="#333" stroke-width="0.85"/>
<text font-size="13.6"><tspan x="542.51" y="207.9">S</tspan><tspan x="549.23" y="207.9">L</tspan><tspan x="556.72" y="207.9">A</tspan><tspan x="565.93" y="207.9">C</tspan></text>
<text font-size="13.6"><tspan x="542.86" y="271.8">C</tspan><tspan x="552.31" y="274.44" font-size="17.4">/</tspan><tspan x="557.4" y="271.8">D</tspan></text>
<text x="604.48" y="205.5" font-size="12" font-style="italic" textLength="5.94" lengthAdjust="spacingAndGlyphs">χ</text>
<text x="610.89" y="201.5" font-size="8.2" textLength="4.61" lengthAdjust="spacingAndGlyphs">2</text>
<text x="616.3" y="208.6" font-size="18" textLength="5" lengthAdjust="spacingAndGlyphs">/</text>
<text x="622.49" y="205.5" font-size="12.8" textLength="7.65" lengthAdjust="spacingAndGlyphs">N</text>
<text x="630.84" y="207.6" font-size="8.4" textLength="12.12" lengthAdjust="spacingAndGlyphs">dat</text>
<text x="647.45" y="205.5" font-size="12.8" textLength="8.48" lengthAdjust="spacingAndGlyphs">=</text>
<text x="660.33" y="205.7" font-size="12.8" textLength="21.45" lengthAdjust="spacingAndGlyphs">0.33</text>
<text x="528.94" y="291.5" font-size="10" textLength="16.31" lengthAdjust="spacingAndGlyphs">0.01</text>
<text x="603.85" y="291.5" font-size="10" textLength="11.61" lengthAdjust="spacingAndGlyphs">0.1</text>
<text x="679.53" y="291.5" font-size="10" textLength="4.97" lengthAdjust="spacingAndGlyphs">1</text>
<text x="609.52" y="305.7" font-size="12.6" font-style="italic" textLength="4.35" lengthAdjust="spacingAndGlyphs">x</text>
<polygon points="123.9,316.7 138.4,317.8 148.1,322.2 156.7,328.7 156.7,331.1 148.1,324.2 138.4,319.4 123.9,318.3" fill="#ffb0b0"/>
<polygon points="147.7,338.6 152.8,341.7 152.8,343.7 147.7,340.4" fill="#ffb0b0"/>
<line x1="38.5" y1="339.2" x2="188.5" y2="339.2" stroke="#000" stroke-opacity="0.33" stroke-width="1.1" stroke-dasharray="4.9 2.0" stroke-dashoffset="1.45"/>
<polyline points="124.13,317.5 131,317.9 138.22,318.6 143.5,320.4 147.88,323.2 152.69,326.4 156.85,329.9" fill="none" stroke="#ff0000" stroke-width="1.9" stroke-linejoin="round"/>
<polyline points="147.88,339.5 152.69,342.7" fill="none" stroke="#ff0000" stroke-width="1.9" stroke-linejoin="round"/>
<line x1="124.13" y1="305.2" x2="124.13" y2="314.8" stroke="#222" stroke-width="1.1"/>
<circle cx="124.13" cy="310.1" r="1.3" fill="#000"/>
<line x1="138.22" y1="317.5" x2="138.22" y2="319.5" stroke="#222" stroke-width="1.1"/>
<circle cx="138.22" cy="318.5" r="1.3" fill="#000"/>
<line x1="147.88" y1="317" x2="147.88" y2="321" stroke="#222" stroke-width="1.1"/>
<circle cx="147.88" cy="319" r="1.3" fill="#000"/>
<line x1="147.88" y1="321.5" x2="147.88" y2="325.4" stroke="#222" stroke-width="1.1"/>
<circle cx="147.88" cy="323.5" r="1.3" fill="#000"/>
<line x1="147.88" y1="328.6" x2="147.88" y2="334.4" stroke="#222" stroke-width="1.1"/>
<circle cx="147.88" cy="331.2" r="1.3" fill="#000"/>
<line x1="156.85" y1="331.5" x2="156.85" y2="334.3" stroke="#222" stroke-width="1.1"/>
<circle cx="156.85" cy="332.8" r="1.3" fill="#000"/>
<line x1="152.69" y1="338.8" x2="152.69" y2="343.3" stroke="#222" stroke-width="1.1"/>
<circle cx="152.69" cy="340.8" r="1.3" fill="#000"/>
<line x1="147.88" y1="337" x2="147.88" y2="358" stroke="#222" stroke-width="1.1"/>
<circle cx="147.88" cy="347.8" r="1.3" fill="#000"/>
<text x="166.4" y="324.8" font-size="8.8" textLength="4.99" lengthAdjust="spacingAndGlyphs" style="fill:#555">×</text>
<text x="172.16" y="323.8" font-size="8" textLength="9.07" lengthAdjust="spacingAndGlyphs" style="fill:#555">1.1</text>
<path d="M38.5 305.5h4.5M38.5 339.5h4.5M38.5 372.5h4.5M41.5 375.9v-4.4M63.5 375.9v-2.5M76.5 375.9v-2.5M85.5 375.9v-2.5M92.5 375.9v-2.5M97.5 375.9v-2.5M102.5 375.9v-2.5M106.5 375.9v-2.5M110.5 375.9v-2.5M113.5 375.9v-4.4M135.5 375.9v-2.5M147.5 375.9v-2.5M156.5 375.9v-2.5M163.5 375.9v-2.5M169.5 375.9v-2.5M174.5 375.9v-2.5M178.5 375.9v-2.5M182.5 375.9v-2.5M185.5 375.9v-4.4" stroke="#333" stroke-width="1" fill="none"/>
<rect x="38.5" y="288.5" width="150" height="87.4" fill="none" stroke="#333" stroke-width="0.85"/>
<text font-size="13.6"><tspan x="45.51" y="303.9">S</tspan><tspan x="52.23" y="303.9">L</tspan><tspan x="59.72" y="303.9">A</tspan><tspan x="68.93" y="303.9">C</tspan></text>
<text font-size="13.6"><tspan x="46.2" y="367.8">F</tspan><tspan x="53.54" y="367.8">e</tspan><tspan x="59.81" y="370.44" font-size="17.4">/</tspan><tspan x="64.9" y="367.8">D</tspan></text>
<text x="107.48" y="301.5" font-size="12" font-style="italic" textLength="5.94" lengthAdjust="spacingAndGlyphs">χ</text>
<text x="113.89" y="297.5" font-size="8.2" textLength="4.61" lengthAdjust="spacingAndGlyphs">2</text>
<text x="119.3" y="304.6" font-size="18" textLength="5" lengthAdjust="spacingAndGlyphs">/</text>
<text x="125.49" y="301.5" font-size="12.8" textLength="7.65" lengthAdjust="spacingAndGlyphs">N</text>
<text x="133.84" y="303.6" font-size="8.4" textLength="12.12" lengthAdjust="spacingAndGlyphs">dat</text>
<text x="150.45" y="301.5" font-size="12.8" textLength="8.48" lengthAdjust="spacingAndGlyphs">=</text>
<text x="162.69" y="301.7" font-size="12.8" textLength="22.09" lengthAdjust="spacingAndGlyphs">1.38</text>
<text x="22.4" y="309.7" font-size="10" textLength="11.82" lengthAdjust="spacingAndGlyphs">1.2</text>
<text x="22.23" y="343.7" font-size="10" textLength="11.83" lengthAdjust="spacingAndGlyphs">1.0</text>
<text x="22.2" y="376.7" font-size="10" textLength="11.86" lengthAdjust="spacingAndGlyphs">0.8</text>
<g transform="translate(0 332.2) rotate(-90)">
<text x="-14.76" y="10.6" font-size="12.2" textLength="5.09" lengthAdjust="spacingAndGlyphs" stroke="#333" stroke-width="0.25">F</text>
<text x="-9.02" y="13.7" font-size="7.8" textLength="3.62" lengthAdjust="spacingAndGlyphs" stroke="#333" stroke-width="0.25">2</text>
<text x="-8.16" y="6.8" font-size="8.4" textLength="4.1" lengthAdjust="spacingAndGlyphs" stroke="#333" stroke-width="0.25">A</text>
<text x="-2.4" y="13.6" font-size="16.5" textLength="3.6" lengthAdjust="spacingAndGlyphs" stroke="#333" stroke-width="0.25">/</text>
<text x="3.34" y="10.6" font-size="12.2" textLength="5.09" lengthAdjust="spacingAndGlyphs" stroke="#333" stroke-width="0.25">F</text>
<text x="9.17" y="13.7" font-size="7.8" textLength="3.74" lengthAdjust="spacingAndGlyphs" stroke="#333" stroke-width="0.25">2</text>
<text x="10.35" y="6.8" font-size="8.4" textLength="3.99" lengthAdjust="spacingAndGlyphs" stroke="#333" stroke-width="0.25">A</text>
<text x="14.41" y="6.6" font-size="7.5" textLength="2.19" lengthAdjust="spacingAndGlyphs" stroke="#333" stroke-width="0.25">′</text>
</g>
<text x="31.94" y="387.5" font-size="10" textLength="16.31" lengthAdjust="spacingAndGlyphs">0.01</text>
<text x="106.85" y="387.5" font-size="10" textLength="11.61" lengthAdjust="spacingAndGlyphs">0.1</text>
<text x="182.53" y="387.5" font-size="10" textLength="4.97" lengthAdjust="spacingAndGlyphs">1</text>
<text x="112.52" y="401.7" font-size="12.6" font-style="italic" textLength="4.35" lengthAdjust="spacingAndGlyphs">x</text>
<polygon points="304.3,338 313.4,338.2 322.8,338.8 322.8,340.4 313.4,339.8 304.3,339.6" fill="#ffb0b0"/>
<line x1="204" y1="339.2" x2="354" y2="339.2" stroke="#000" stroke-opacity="0.33" stroke-width="1.1" stroke-dasharray="4.9 2.0" stroke-dashoffset="1.45"/>
<polyline points="304.42,338.8 313.38,339 322.35,339.6" fill="none" stroke="#ff0000" stroke-width="1.9" stroke-linejoin="round"/>
<line x1="303.72" y1="335.1" x2="303.72" y2="341.9" stroke="#222" stroke-width="1.1"/>
<circle cx="303.72" cy="338.4" r="1.3" fill="#000"/>
<line x1="313.38" y1="335.1" x2="313.38" y2="341.9" stroke="#222" stroke-width="1.1"/>
<circle cx="313.38" cy="338.5" r="1.3" fill="#000"/>
<line x1="322.35" y1="340" x2="322.35" y2="346.8" stroke="#222" stroke-width="1.1"/>
<circle cx="322.35" cy="343.3" r="1.3" fill="#000"/>
<path d="M204 305.5h4.5M204 339.5h4.5M204 372.5h4.5M207.5 375.9v-4.4M228.5 375.9v-2.5M241.5 375.9v-2.5M250.5 375.9v-2.5M257.5 375.9v-2.5M263.5 375.9v-2.5M268.5 375.9v-2.5M272.5 375.9v-2.5M275.5 375.9v-2.5M279.5 375.9v-4.4M300.5 375.9v-2.5M313.5 375.9v-2.5M322.5 375.9v-2.5M329.5 375.9v-2.5M334.5 375.9v-2.5M339.5 375.9v-2.5M343.5 375.9v-2.5M347.5 375.9v-2.5M350.5 375.9v-4.4" stroke="#333" stroke-width="1" fill="none"/>
<rect x="204" y="288.5" width="150" height="87.4" fill="none" stroke="#333" stroke-width="0.85"/>
<text font-size="13.6"><tspan x="211.01" y="303.9">S</tspan><tspan x="217.73" y="303.9">L</tspan><tspan x="225.22" y="303.9">A</tspan><tspan x="234.43" y="303.9">C</tspan></text>
<text font-size="13.6"><tspan x="211.15" y="367.8">H</tspan><tspan x="220.21" y="367.8">e</tspan><tspan x="226.47" y="370.44" font-size="17.4">/</tspan><tspan x="231.56" y="367.8">D</tspan></text>
<text x="272.98" y="301.5" font-size="12" font-style="italic" textLength="5.94" lengthAdjust="spacingAndGlyphs">χ</text>
<text x="279.39" y="297.5" font-size="8.2" textLength="4.61" lengthAdjust="spacingAndGlyphs">2</text>
<text x="284.8" y="304.6" font-size="18" textLength="5" lengthAdjust="spacingAndGlyphs">/</text>
<text x="290.99" y="301.5" font-size="12.8" textLength="7.65" lengthAdjust="spacingAndGlyphs">N</text>
<text x="299.34" y="303.6" font-size="8.4" textLength="12.12" lengthAdjust="spacingAndGlyphs">dat</text>
<text x="315.95" y="301.5" font-size="12.8" textLength="8.48" lengthAdjust="spacingAndGlyphs">=</text>
<text x="328.83" y="301.7" font-size="12.8" textLength="21.43" lengthAdjust="spacingAndGlyphs">0.50</text>
<text x="197.94" y="387.5" font-size="10" textLength="16.31" lengthAdjust="spacingAndGlyphs">0.01</text>
<text x="272.85" y="387.5" font-size="10" textLength="11.61" lengthAdjust="spacingAndGlyphs">0.1</text>
<text x="347.53" y="387.5" font-size="10" textLength="4.97" lengthAdjust="spacingAndGlyphs">1</text>
<text x="278.02" y="401.7" font-size="12.6" font-style="italic" textLength="4.35" lengthAdjust="spacingAndGlyphs">x</text>
<rect x="380.1" y="333.8" width="33.7" height="12" fill="#ffb0b0"/>
<line x1="380.1" y1="339.9" x2="413.8" y2="339.9" stroke="#ff0000" stroke-width="1.6"/>
<line x1="396.9" y1="354.8" x2="396.9" y2="371.1" stroke="#222" stroke-width="1.1"/>
<circle cx="396.9" cy="362.6" r="1.3" fill="#000"/>
<text font-size="11.2"><tspan x="425.77" y="345.6">n</tspan><tspan x="431.45" y="345.6">N</tspan><tspan x="439.4" y="345.6">N</tspan><tspan x="447.91" y="345.6">P</tspan><tspan x="454.64" y="345.6">D</tspan><tspan x="463.08" y="345.6">F</tspan><tspan x="469.51" y="345.6">1</tspan><tspan x="475.03" y="345.6">.</tspan><tspan x="477.75" y="345.6">0</tspan></text>
<text font-size="11.2"><tspan x="426.23" y="368.3">D</tspan><tspan x="434.49" y="368.3">a</tspan><tspan x="440.13" y="368.3">t</tspan><tspan x="443.91" y="368.3">a</tspan></text>
</svg></body></html>
